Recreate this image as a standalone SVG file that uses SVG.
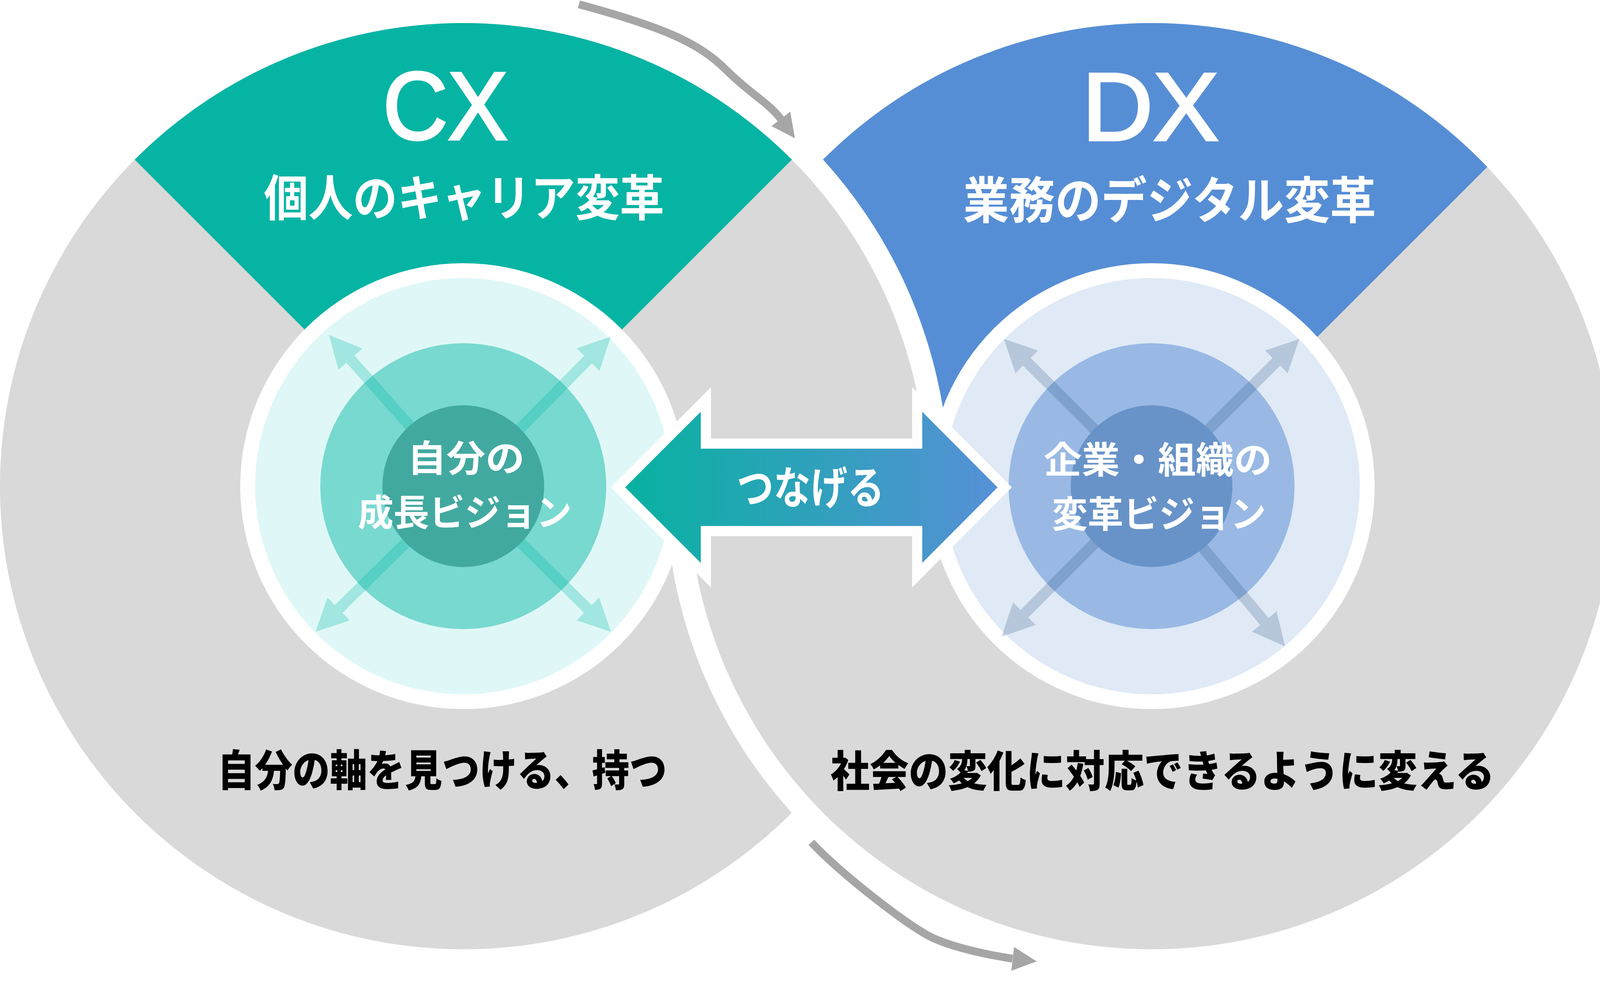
<svg xmlns="http://www.w3.org/2000/svg" width="4135" height="2525" viewBox="0 0 4135 2525">
<defs>
<style>
.gray{fill:#D9D9D9}
.jp{font-family:"Noto Sans CJK JP","Noto Sans CJK SC",sans-serif;font-weight:700}
.w{fill:#FFFFFF}
.lat{font-family:"Liberation Sans",Arial,sans-serif;stroke:#FFFFFF;stroke-width:6}
.ga{fill:none;stroke:#A6A6A6;stroke-width:20}
.gh{fill:#A6A6A6}
.ta{fill:#00B8A6;fill-opacity:0.28}
.ba{fill:#1F4E79;fill-opacity:0.22}
.blk{fill:#000000;font-weight:900}
</style>
<clipPath id="clipL"><circle cx="1186" cy="1245" r="1186"/></clipPath>
<clipPath id="clipR"><circle cx="2948" cy="1245" r="1186"/></clipPath>
<clipPath id="topHalf"><rect x="0" y="0" width="4135" height="1245"/></clipPath>
<linearGradient id="grad" gradientUnits="userSpaceOnUse" x1="1600" y1="0" x2="2560" y2="0">
<stop offset="0" stop-color="#07B2A0"/>
<stop offset="1" stop-color="#5790D7"/>
</linearGradient>
<g id="leftBig">
<circle cx="1186" cy="1245" r="1186" class="gray"/>
<polygon points="1186,1250 -150,-86 2522,-86" fill="#06B4A4" clip-path="url(#clipL)"/>
</g>
</defs>
<rect x="0" y="0" width="4135" height="2525" fill="#FFFFFF"/>

<g id="cx-circle">
<use href="#leftBig"/>
</g>

<g id="dx-circle">
<circle cx="2948" cy="1245" r="1244" fill="#FFFFFF"/>
<circle cx="2948" cy="1245" r="1186" class="gray"/>
<polygon points="2948,1287 4348,-113 1500,-113 1500,1250" fill="#568ED5" clip-path="url(#clipR)"/>
</g>

<g id="cx-circle-top" clip-path="url(#topHalf)">
<circle cx="1186" cy="1245" r="1244" fill="#FFFFFF"/>
<use href="#leftBig"/>
</g>

<g id="cx-title">
<text class="lat w" x="980" y="357" font-size="246" textLength="320" lengthAdjust="spacingAndGlyphs">CX</text>
<text class="jp w" x="1188" y="553" font-size="126" text-anchor="middle" textLength="1025" lengthAdjust="spacingAndGlyphs">個人のキャリア変革</text>
</g>

<g id="dx-title">
<text class="lat w" x="2770" y="359" font-size="246" textLength="350" lengthAdjust="spacingAndGlyphs">DX</text>
<text class="jp w" x="2994" y="560" font-size="128" text-anchor="middle" textLength="1057" lengthAdjust="spacingAndGlyphs">業務のデジタル変革</text>
</g>

<g id="cx-vision">
<circle cx="1186" cy="1245" r="571" fill="#FFFFFF"/>
<circle cx="1186" cy="1245" r="533" fill="#DFF8F7"/>
<circle cx="1186" cy="1245" r="366" fill="#78D9D0"/>
<polygon class="ta" transform="translate(1186 1245) rotate(-131.6)" points="0,-14 435,-14 435,-41 518,0 435,41 435,14 0,14"/>
<polygon class="ta" transform="translate(1186 1245) rotate(-45.4)" points="0,-14 455,-14 455,-41 538,0 455,41 455,14 0,14"/>
<polygon class="ta" transform="translate(1186 1245) rotate(135.4)" points="0,-14 448,-14 448,-41 531,0 448,41 448,14 0,14"/>
<polygon class="ta" transform="translate(1186 1245) rotate(44.6)" points="0,-14 448,-14 448,-41 531,0 448,41 448,14 0,14"/>
<circle cx="1186" cy="1245" r="207" fill="#42A9A0"/>
<text class="jp w" font-size="94" text-anchor="middle"><tspan x="1193" y="1208" textLength="300" lengthAdjust="spacingAndGlyphs">自分の</tspan><tspan x="1190" y="1347" textLength="548" lengthAdjust="spacingAndGlyphs">成長ビジョン</tspan></text>
</g>

<g id="dx-vision">
<circle cx="2948" cy="1245" r="571" fill="#FFFFFF"/>
<circle cx="2948" cy="1245" r="533" fill="#E0EAF6"/>
<circle cx="2948" cy="1245" r="366" fill="#99B9E4"/>
<polygon class="ba" transform="translate(2948 1245) rotate(-135.1)" points="0,-14 451,-14 451,-41 534,0 451,41 451,14 0,14"/>
<polygon class="ba" transform="translate(2948 1245) rotate(-44.9)" points="0,-14 451,-14 451,-41 534,0 451,41 451,14 0,14"/>
<polygon class="ba" transform="translate(2948 1245) rotate(134.9)" points="0,-14 461,-14 461,-41 544,0 461,41 461,14 0,14"/>
<polygon class="ba" transform="translate(2948 1245) rotate(50.2)" points="0,-14 451,-14 451,-41 534,0 451,41 451,14 0,14"/>
<circle cx="2948" cy="1245" r="207" fill="#6893C8"/>
<text class="jp w" font-size="94" text-anchor="middle"><tspan x="2964" y="1212" textLength="584" lengthAdjust="spacingAndGlyphs">企業・組織の</tspan><tspan x="2967" y="1351" textLength="548" lengthAdjust="spacingAndGlyphs">変革ビジョン</tspan></text>
</g>

<g id="connectors">
<g id="connect-arrow">
<path d="M1582,1248 L1807,1023 L1807,1136 L2348,1136 L2348,1023 L2572,1248 L2348,1473 L2348,1360 L1807,1360 L1807,1473 Z" fill="url(#grad)" stroke="#FFFFFF" stroke-width="26" stroke-linejoin="miter"/>
<text class="jp w" x="2075" y="1290" font-size="114" text-anchor="middle" textLength="378" lengthAdjust="spacingAndGlyphs">つなげる</text>
</g>
<g id="flow-top">
<path class="ga" d="M1482,11 C1700,70 1790,110 1860,180 C1920,240 1969,264 1999,305"/>
<polygon class="gh" points="2035,354 2023,286 1975,323"/>
</g>
<g id="flow-bottom">
<path class="ga" d="M2077,2157 C2150,2235 2310,2360 2380,2398 C2440,2428 2540,2447 2592,2455"/>
<polygon class="gh" points="2654,2462 2596,2425 2589,2486"/>
</g>
</g>

<g id="cx-caption">
<text class="jp blk" x="1132" y="2013" font-size="110" text-anchor="middle" textLength="1150" lengthAdjust="spacingAndGlyphs">自分の軸を見つける、持つ</text>
</g>
<g id="dx-caption">
<text class="jp blk" x="2976" y="2015" font-size="110" text-anchor="middle" textLength="1700" lengthAdjust="spacingAndGlyphs">社会の変化に対応できるように変える</text>
</g>
</svg>
